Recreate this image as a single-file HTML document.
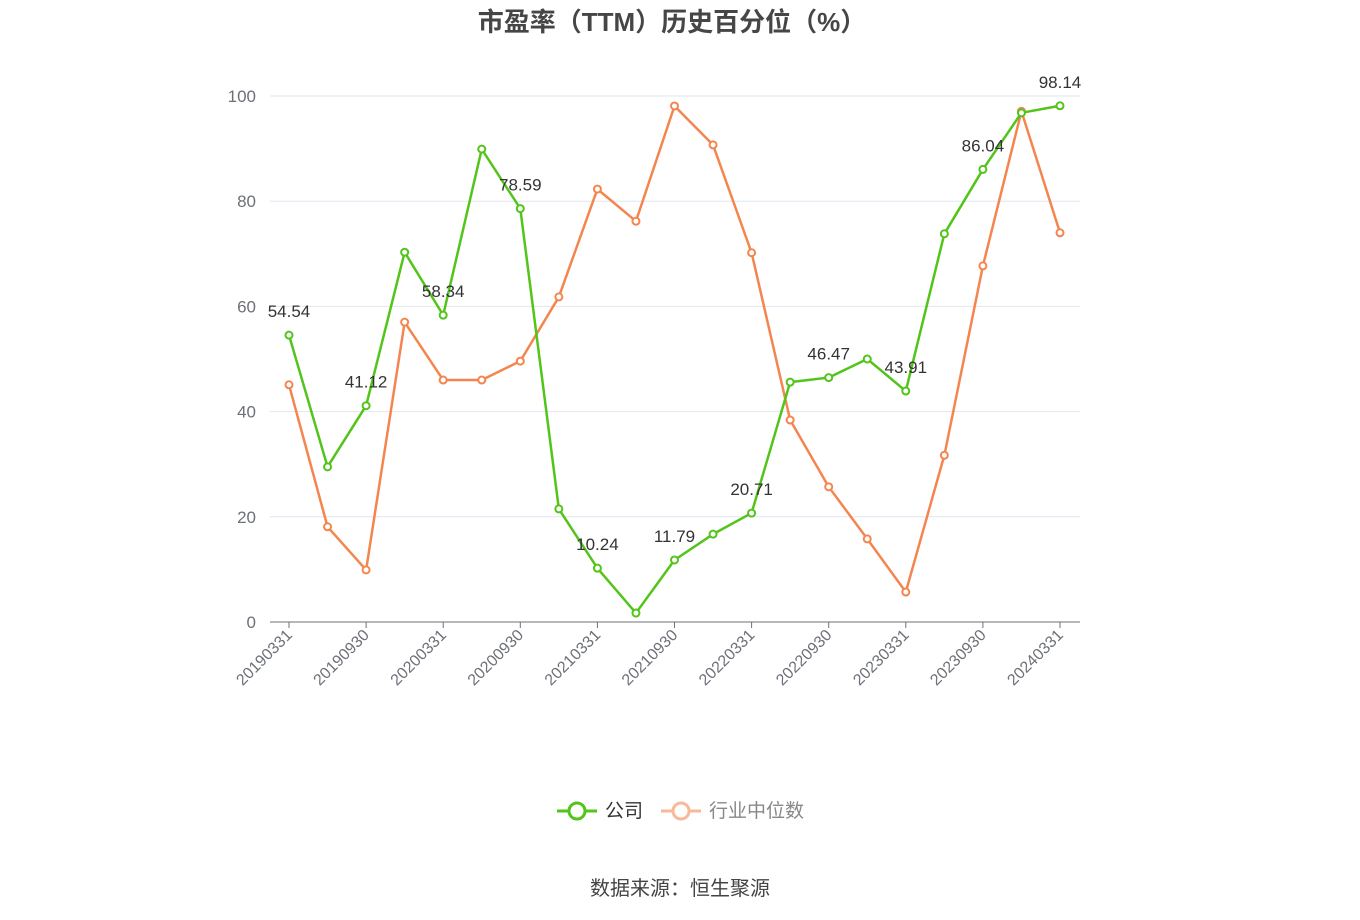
<!DOCTYPE html>
<html><head><meta charset="utf-8"><style>
html,body{margin:0;padding:0;background:#fff;}
svg{display:block;font-family:"Liberation Sans","Noto Sans CJK SC",sans-serif;}
</style></head><body>
<svg id="chart" width="1360" height="920">
<text x="672" y="31" text-anchor="middle" font-size="26" font-weight="bold" fill="#464646">市盈率（TTM）历史百分位（%）</text>
<g id="grid"></g><g id="axes"></g><g id="series"></g>
<g>
<g>
<line x1="557" y1="811" x2="597" y2="811" stroke="#52c41a" stroke-width="3"/>
<circle cx="577" cy="811" r="8" fill="#fff" stroke="#52c41a" stroke-width="3"/>
<text x="605" y="817" font-size="19" fill="#333">公司</text></g>
<g>
<line x1="661" y1="811" x2="701" y2="811" stroke="#f9b89a" stroke-width="3"/>
<circle cx="681" cy="811" r="8" fill="#fff" stroke="#f9b89a" stroke-width="3"/>
<text x="709" y="817" font-size="19" fill="#888">行业中位数</text></g>
</g>
<text x="680" y="895" text-anchor="middle" font-size="20" fill="#444">数据来源：恒生聚源</text>
</svg>
<script>
const categories=["20190331","20190630","20190930","20191231","20200331","20200630","20200930","20201231","20210331","20210630","20210930","20211231","20220331","20220630","20220930","20221231","20230331","20230630","20230930","20231231","20240331"];
const companyValues=[54.54,29.5,41.12,70.3,58.34,89.9,78.59,21.5,10.24,1.7,11.79,16.7,20.71,45.6,46.47,50.0,43.91,73.8,86.04,96.8,98.14];
const industryValues=[45.1,18.1,9.9,57.0,46.0,46.0,49.6,61.8,82.3,76.2,98.1,90.7,70.2,38.4,25.7,15.8,5.7,31.7,67.7,97.1,74.0];
const yTicks=[0,20,40,60,80,100];
const NS="http://www.w3.org/2000/svg";
const x0=289,x1=1060,yTop=96,yBot=622;
function xS(i){return x0+(x1-x0)*i/(categories.length-1);}
function yS(v){return yBot-(yBot-yTop)*v/100;}
function mk(tag,attrs,parent,txt){const e=document.createElementNS(NS,tag);for(const k in attrs)e.setAttribute(k,attrs[k]);if(txt!==undefined)e.textContent=txt;parent.appendChild(e);return e;}
const grid=document.getElementById('grid'),axes=document.getElementById('axes'),ser=document.getElementById('series');
yTicks.forEach(t=>{
 if(t>0){const l=mk('line',{x1:270,x2:1080,y1:yS(t),y2:yS(t),stroke:'#e0e6f1','stroke-width':1},grid);
 
 }
 const tx=mk('text',{x:256,y:yS(t)+6,'text-anchor':'end','font-size':17,fill:'#6e7079'},axes,String(t));
 
 
});
const ax=mk('line',{x1:270,x2:1080,y1:yBot,y2:yBot,stroke:'#6e7079','stroke-width':1},axes);


categories.forEach((c,i)=>{
 if(i%2)return;
 const x=xS(i);
 mk('line',{x1:x,x2:x,y1:yBot,y2:yBot+6,stroke:'#6e7079'},axes);
 const t=mk('text',{x:x+4,y:yBot+14,'text-anchor':'end','font-size':16,fill:'#6e7079',transform:`rotate(-45 ${x+4} ${yBot+14})`},axes,c);
 
 
});
function drawSeries(vals,color,name,labels){
 const g=mk('g',{},ser);
 
 
 const p=mk('polyline',{points:vals.map((v,i)=>xS(i)+','+yS(v)).join(' '),fill:'none',stroke:color,'stroke-width':2.5,'stroke-linejoin':'round'},g);
 
 
 vals.forEach((v,i)=>{
  const c=mk('circle',{cx:xS(i),cy:yS(v),r:3.5,fill:'#fff',stroke:color,'stroke-width':2},g);
  
  
  if(labels&&i%2===0){
   const t=mk('text',{x:xS(i),y:yS(v)-18,'text-anchor':'middle','font-size':17,fill:'#333'},g,v.toFixed(2));
   
   
  }
 });
}
drawSeries(industryValues,'#f5854f','industry',false);
drawSeries(companyValues,'#52c41a','company',true);
</script>
</body></html>
